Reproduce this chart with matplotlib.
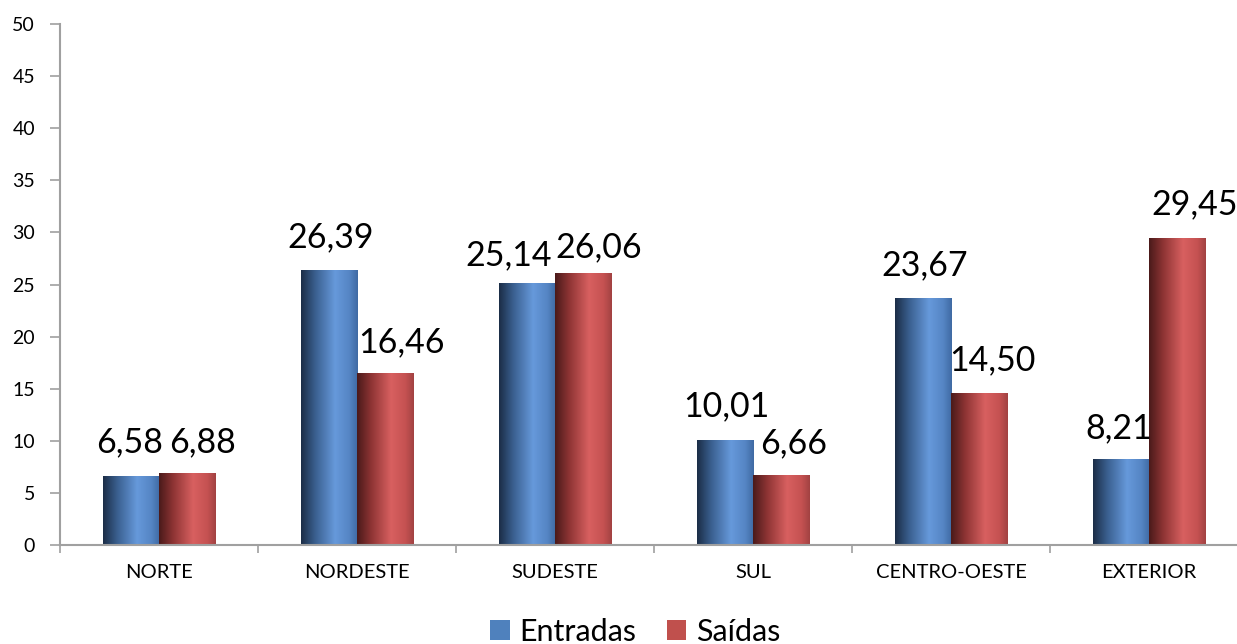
import matplotlib
matplotlib.use("Agg")
import matplotlib.pyplot as plt
import numpy as np
from matplotlib.colors import LinearSegmentedColormap
from matplotlib.patches import Patch

categories = ["NORTE", "NORDESTE", "SUDESTE", "SUL", "CENTRO-OESTE", "EXTERIOR"]
entradas = [6.58, 26.39, 25.14, 10.01, 23.67, 8.21]
saidas = [6.88, 16.46, 26.06, 6.66, 14.50, 29.45]
series_names = ["Entradas", "Saídas"]
yticks = list(range(0, 51, 5))

# label placement nudges (pixels): horizontal shift and gap above bar
entradas_lbl_dx = [-1.5, 2, -18, 2, 2, -2]
entradas_lbl_gap = [24, 23, 18, 24, 23, 21]
saidas_lbl_dx = [15, 16, 15, 12, 13, 17]
saidas_lbl_gap = [21, 21, 16, 22, 24, 24]

plt.rcParams['font.family'] = ['Lato', 'DejaVu Sans']

fig = plt.figure(figsize=(12.37, 6.44), dpi=100)
ax = fig.add_axes([60/1237, (644-545)/644, 1188/1237, 521/644])

blue_cmap = LinearSegmentedColormap.from_list(
    "b", [(0.0, "#1b2d46"), (0.25, "#3a5f8f"), (0.6, "#6699db"), (0.85, "#5585c4"), (1.0, "#3f6aa3")])
red_cmap = LinearSegmentedColormap.from_list(
    "r", [(0.0, "#4a1a1a"), (0.25, "#8e3434"), (0.6, "#d86060"), (0.85, "#c55252"), (1.0, "#a24242")])

x = np.arange(len(categories))
w = 0.285
grad = np.linspace(0, 1, 256).reshape(1, -1)

for vals, off, cmap, dxs, gaps in [(entradas, -w/2, blue_cmap, entradas_lbl_dx, entradas_lbl_gap),
                                   (saidas, w/2, red_cmap, saidas_lbl_dx, saidas_lbl_gap)]:
    bars = ax.bar(x + off, vals, width=w, color='none', edgecolor='none', zorder=2)
    for rect, v, dx, gap in zip(bars, vals, dxs, gaps):
        x0, y0 = rect.get_x(), rect.get_y()
        ax.imshow(grad, cmap=cmap, extent=[x0, x0 + rect.get_width(), y0, y0 + rect.get_height()],
                  aspect='auto', zorder=2, interpolation='bilinear')
        ax.annotate(f"{v:.2f}".replace('.', ','), (x0 + rect.get_width()/2, y0 + rect.get_height()),
                    xytext=(dx, gap), textcoords='offset pixels', ha='center', va='baseline',
                    fontsize=24.5, color='black', annotation_clip=False)

ax.set_xlim(-0.5, len(categories) - 0.5)
ax.set_ylim(0, 50)
ax.set_yticks(yticks)
ax.set_yticklabels([str(t) for t in yticks], fontsize=14)
ax.set_xticks(x)
ax.set_xticklabels(categories, fontsize=14.5)
ax.set_xticks(np.arange(-0.5, len(categories), 1), minor=True)
ax.tick_params(axis='x', which='major', length=0, pad=14)
ax.tick_params(axis='x', which='minor', length=6, color='#a0a0a0', width=1.2)
ax.tick_params(axis='y', length=7, color='#a0a0a0', width=1.2, pad=11)
for s in ['top', 'right']:
    ax.spines[s].set_visible(False)
for s in ['left', 'bottom']:
    ax.spines[s].set_color('#a0a0a0')
    ax.spines[s].set_linewidth(1.5)

handles = [Patch(facecolor='#4f81bd'), Patch(facecolor='#c0504d')]
fig.legend(handles, series_names, loc='center', bbox_to_anchor=(635/1237, 1 - 632/644),
           ncol=2, frameon=False, fontsize=22, handlelength=0.65, handleheight=0.65,
           handletextpad=0.3, columnspacing=1.0, borderpad=0)

fig.savefig("out.png", dpi=100)
